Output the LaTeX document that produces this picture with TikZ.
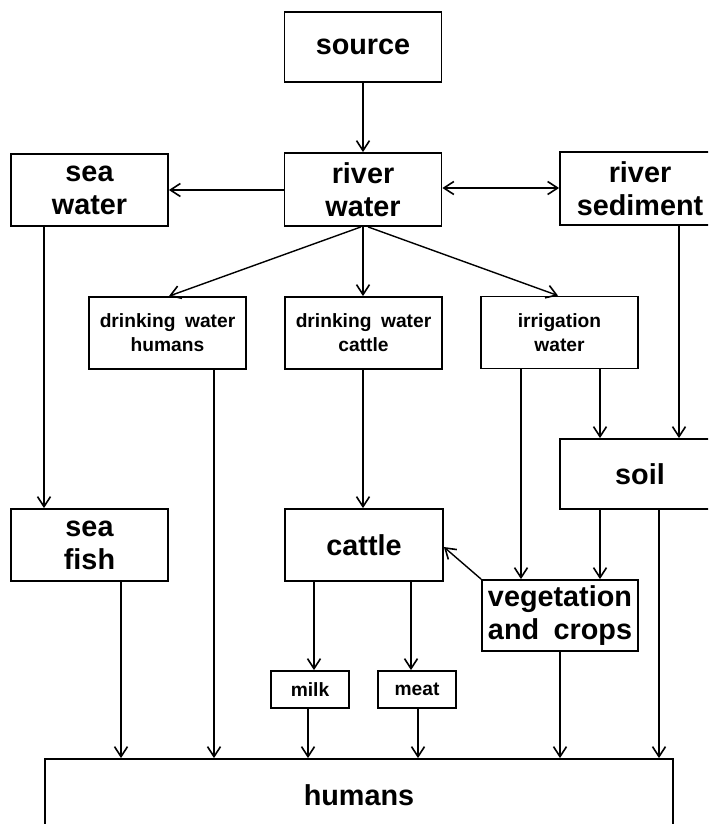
\documentclass[tikz,border=0pt]{standalone}
\usepackage{fontspec}
\setmainfont{Liberation Sans}[WordSpace=1.8]
\usetikzlibrary{arrows.meta}
\begin{document}
\begin{tikzpicture}[x=0.5pt,y=-0.5pt,
  box/.style={draw,line width=0.9pt,inner sep=0pt,align=center,
    minimum width=78.5pt,minimum height=36pt,
    font=\fontsize{14.4}{16.5}\selectfont\bfseries},
  sbox/.style={box,font=\fontsize{9.6}{12}\selectfont\bfseries},
  arr/.style={line width=0.7pt,-{Straight Barb[length=5pt,width=6.5pt,line width=0.8pt]}},
  darr/.style={line width=0.7pt,{Straight Barb[length=5pt,width=6.5pt,line width=0.8pt]}-{Straight Barb[length=5pt,width=6.5pt,line width=0.8pt]}}]
\useasboundingbox (0,0) rectangle (708,824);
\clip (0,0) rectangle (708,824);
\node[box,minimum height=35pt] (src) at (363,47) {source};
\node[box,minimum height=36.5pt] (rw) at (363,189.5) {river\\water};
\node[box] (sw) at (89.5,190) {sea\\water};
\node[box,minimum width=80pt,minimum height=36.5pt] (rs) at (640,188.5) {river\\sediment};
\node[sbox] (dwh) at (167.5,333) {drinking water\\humans};
\node[sbox] (dwc) at (363.5,333) {drinking water\\cattle};
\node[sbox] (iw) at (559.5,332.5) {irrigation\\water};
\node[box,minimum width=80pt,minimum height=35pt] (soil) at (640,474) {soil};
\node[box] (sf) at (89.5,545) {sea\\fish};
\node[box,minimum width=79pt] (cat) at (364,545) {cattle};
\node[box,minimum width=78pt,minimum height=35.5pt] (veg) at (560,615.5) {vegetation\\and crops};
\node[sbox,minimum width=39pt,minimum height=18.5pt] (milk) at (310,689.5) {milk};
\node[sbox,minimum width=39pt,minimum height=18.5pt] (meat) at (417,689.5) {meat};
\node[box,minimum width=314pt] (hum) at (359,795) {humans};
% connectors
\draw[arr] (src) -- (rw);
\draw[arr] (rw.west |- 0,190) -- (sw.east |- 0,190);
\draw[darr] (rw.east |- 0,188) -- (rs.west |- 0,188);
\draw[arr] (rw.south -| 361,0) -- (dwh.north -| 169,0);
\draw[arr] (rw.south) -- (dwc.north -| rw.south);
\draw[arr] (rw.south -| 368,0) -- (iw.north -| 558,0);
\draw[arr] (sw.south -| 44,0) -- (sf.north -| 44,0);
\draw[arr] (dwh.south -| 214,0) -- (hum.north -| 214,0);
\draw[arr] (dwc.south -| 363,0) -- (cat.north -| 363,0);
\draw[arr] (iw.south -| 521,0) -- (veg.north -| 521,0);
\draw[arr] (iw.south -| 600,0) -- (soil.north -| 600,0);
\draw[arr] (rs.south -| 679,0) -- (soil.north -| 679,0);
\draw[arr] (soil.south -| 600,0) -- (veg.north -| 600,0);
\draw[arr] (soil.south -| 659,0) -- (hum.north -| 659,0);
\draw[arr] (veg.north west) -- (cat.east |- 0,547);
\draw[arr] (cat.south -| 314,0) -- (milk.north -| 314,0);
\draw[arr] (cat.south -| 411,0) -- (meat.north -| 411,0);
\draw[arr] (sf.south -| 121,0) -- (hum.north -| 121,0);
\draw[arr] (milk.south -| 308,0) -- (hum.north -| 308,0);
\draw[arr] (meat.south -| 418,0) -- (hum.north -| 418,0);
\draw[arr] (veg.south) -- (hum.north -| veg.south);
\end{tikzpicture}
\end{document}
